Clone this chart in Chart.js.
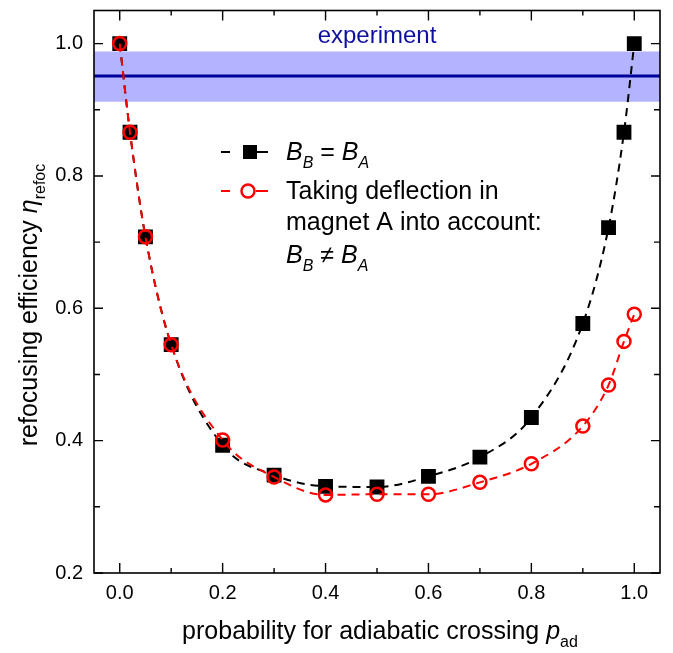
<!DOCTYPE html>
<html>
<head>
<meta charset="utf-8">
<script src="https://cdn.jsdelivr.net/npm/chart.js@4/dist/chart.umd.min.js"></script>
<style>
  html, body { margin: 0; padding: 0; background: #fff; }
  canvas { display: block; }
</style>
</head>
<body>
<canvas id="chart" width="673" height="653"></canvas>
<script>
// probability for adiabatic crossing (x)
const pAd = [0, 0.02, 0.05, 0.1, 0.2, 0.3, 0.4, 0.5, 0.6, 0.7, 0.8, 0.9, 0.95, 0.98, 1.0];
// B_B = B_A
const etaSame = [1.0, 0.866, 0.708, 0.545, 0.393, 0.348, 0.331, 0.330, 0.346, 0.375, 0.435, 0.577, 0.722, 0.866, 1.0];
// deflection in magnet A taken into account
const etaDefl = [1.0, 0.866, 0.708, 0.545, 0.401, 0.345, 0.318, 0.319, 0.319, 0.337, 0.365, 0.422, 0.484, 0.550, 0.591];

// experimental value and its band
const expMean = 0.951;
const expLow = 0.912;
const expHigh = 0.988;

const xMin = -0.05, xMax = 1.05;
const yMin = 0.2, yMax = 1.05;
const xMajor = [0, 0.2, 0.4, 0.6, 0.8, 1.0];
const xMinor = [0.1, 0.3, 0.5, 0.7, 0.9];
const yMajor = [0.2, 0.4, 0.6, 0.8, 1.0];
const yMinor = [0.3, 0.5, 0.7, 0.9];

const FAM = '"Liberation Sans", Arial, Helvetica, sans-serif';

function pts(xs, ys) {
    return xs.map((x, i) => ({ x: x, y: ys[i] }));
}

// draws text made of plain / italic / subscript pieces
function drawRich(ctx, parts, x, y, align, size) {
    const fontOf = p => (p.i ? 'italic ' : '') + (p.sub ? Math.round(size * 0.62) : size) + 'px ' + FAM;
    let total = 0;
    parts.forEach(p => {
        ctx.font = fontOf(p);
        p.w = ctx.measureText(p.t).width;
        total += p.w;
    });
    let cx = align === 'center' ? x - total / 2 : x;
    ctx.textAlign = 'left';
    ctx.textBaseline = 'alphabetic';
    parts.forEach(p => {
        ctx.font = fontOf(p);
        ctx.fillText(p.t, cx, y + (p.sub ? size * 0.3 : 0));
        cx += p.w;
    });
}

const decorPlugin = {
    id: 'decor',
    afterDraw(chart) {
        const ctx = chart.ctx;
        const a = chart.chartArea;
        const xs = chart.scales.x, ys = chart.scales.y;
        ctx.save();

        // frame
        ctx.strokeStyle = '#000';
        ctx.lineWidth = 1.6;
        ctx.strokeRect(a.left, a.top, a.right - a.left, a.bottom - a.top);

        // inward ticks on all sides
        ctx.lineWidth = 1.4;
        ctx.beginPath();
        const xt = (v, len) => {
            const px = xs.getPixelForValue(v);
            ctx.moveTo(px, a.bottom); ctx.lineTo(px, a.bottom - len);
            ctx.moveTo(px, a.top); ctx.lineTo(px, a.top + len);
        };
        const yt = (v, len) => {
            const py = ys.getPixelForValue(v);
            ctx.moveTo(a.left, py); ctx.lineTo(a.left + len, py);
            ctx.moveTo(a.right, py); ctx.lineTo(a.right - len, py);
        };
        xMajor.forEach(v => xt(v, 10));
        xMinor.forEach(v => xt(v, 5));
        yMajor.forEach(v => yt(v, 9));
        yMinor.forEach(v => yt(v, 6));
        ctx.stroke();

        // experiment label
        ctx.fillStyle = '#1010a0';
        ctx.font = '24px ' + FAM;
        ctx.textAlign = 'center';
        ctx.textBaseline = 'alphabetic';
        ctx.fillText('experiment', 377, 43);

        // legend
        ctx.lineWidth = 2;
        ctx.strokeStyle = '#000';
        ctx.beginPath();
        ctx.moveTo(221, 152); ctx.lineTo(230, 152);
        ctx.moveTo(256, 152); ctx.lineTo(268, 152);
        ctx.stroke();
        ctx.fillStyle = '#000';
        ctx.fillRect(243, 145, 14, 14);

        ctx.strokeStyle = '#ff0000';
        ctx.beginPath();
        ctx.moveTo(221, 191); ctx.lineTo(230, 191);
        ctx.moveTo(256, 191); ctx.lineTo(268, 191);
        ctx.stroke();
        ctx.lineWidth = 2.5;
        ctx.beginPath();
        ctx.arc(248, 191, 6.5, 0, Math.PI * 2);
        ctx.stroke();

        ctx.fillStyle = '#000';
        drawRich(ctx, [
            { t: 'B', i: true }, { t: 'B', i: true, sub: true },
            { t: ' = ' },
            { t: 'B', i: true }, { t: 'A', i: true, sub: true }
        ], 286, 160, 'left', 25);
        drawRich(ctx, [{ t: 'Taking deflection in' }], 286, 199, 'left', 25);
        drawRich(ctx, [{ t: 'magnet A into account:' }], 286, 230, 'left', 25);
        drawRich(ctx, [
            { t: 'B', i: true }, { t: 'B', i: true, sub: true },
            { t: ' \u2260 ' },
            { t: 'B', i: true }, { t: 'A', i: true, sub: true }
        ], 286, 263, 'left', 25);

        // axis titles
        drawRich(ctx, [
            { t: 'probability for adiabatic crossing ' },
            { t: 'p', i: true }, { t: 'ad', sub: true }
        ], 380, 639, 'center', 25);

        ctx.translate(37, 305);
        ctx.rotate(-Math.PI / 2);
        drawRich(ctx, [
            { t: 'refocusing efficiency ' },
            { t: '\u03b7', i: true }, { t: 'refoc', sub: true }
        ], 0, 0, 'center', 25);

        ctx.restore();
    }
};

new Chart(document.getElementById('chart'), {
    type: 'line',
    data: {
        datasets: [
            {
                // upper edge of experimental band
                data: pts([xMin, xMax], [expHigh, expHigh]),
                borderWidth: 0,
                pointRadius: 0,
                backgroundColor: '#b3b3ff',
                fill: '+1',
                order: 4
            },
            {
                data: pts([xMin, xMax], [expLow, expLow]),
                borderWidth: 0,
                pointRadius: 0,
                fill: false,
                order: 4
            },
            {
                data: pts([xMin, xMax], [expMean, expMean]),
                borderColor: '#00009a',
                borderWidth: 3,
                pointRadius: 0,
                fill: false,
                order: 3
            },
            {
                label: 'B_B = B_A',
                data: pts(pAd, etaSame),
                borderColor: '#000',
                borderWidth: 2,
                borderDash: [8, 6],
                cubicInterpolationMode: 'monotone',
                pointStyle: 'rect',
                pointRadius: 10.5,
                pointBackgroundColor: '#000',
                pointBorderWidth: 0,
                fill: false,
                order: 2
            },
            {
                label: 'Taking deflection in magnet A into account: B_B != B_A',
                data: pts(pAd, etaDefl),
                borderColor: '#ff0000',
                borderWidth: 2,
                borderDash: [8, 6],
                cubicInterpolationMode: 'monotone',
                pointStyle: 'circle',
                pointRadius: 6.5,
                pointBackgroundColor: 'rgba(0,0,0,0)',
                pointBorderColor: '#ff0000',
                pointBorderWidth: 2.5,
                fill: false,
                order: 1
            }
        ]
    },
    options: {
        responsive: false,
        animation: false,
        devicePixelRatio: 1,
        layout: { padding: { left: 0, top: 8, right: 13, bottom: 0 } },
        plugins: {
            legend: { display: false },
            tooltip: { enabled: false }
        },
        scales: {
            x: {
                type: 'linear',
                min: xMin,
                max: xMax,
                grid: { display: false, drawTicks: false },
                border: { display: false },
                afterBuildTicks: s => { s.ticks = xMajor.map(v => ({ value: v })); },
                afterFit: s => { s.height = 80; s.paddingLeft = 0; s.paddingRight = 0; },
                ticks: {
                    padding: 8,
                    color: '#000',
                    font: { family: FAM, size: 20 },
                    maxRotation: 0,
                    callback: v => v.toFixed(1)
                }
            },
            y: {
                type: 'linear',
                min: yMin,
                max: yMax,
                grid: { display: false, drawTicks: false },
                border: { display: false },
                afterBuildTicks: s => { s.ticks = yMajor.map(v => ({ value: v })); },
                afterFit: s => { s.width = 94; s.paddingTop = 0; s.paddingBottom = 0; },
                ticks: {
                    padding: 11,
                    color: '#000',
                    font: { family: FAM, size: 20 },
                    callback: v => v.toFixed(1)
                }
            }
        }
    },
    plugins: [decorPlugin]
});
</script>
</body>
</html>
